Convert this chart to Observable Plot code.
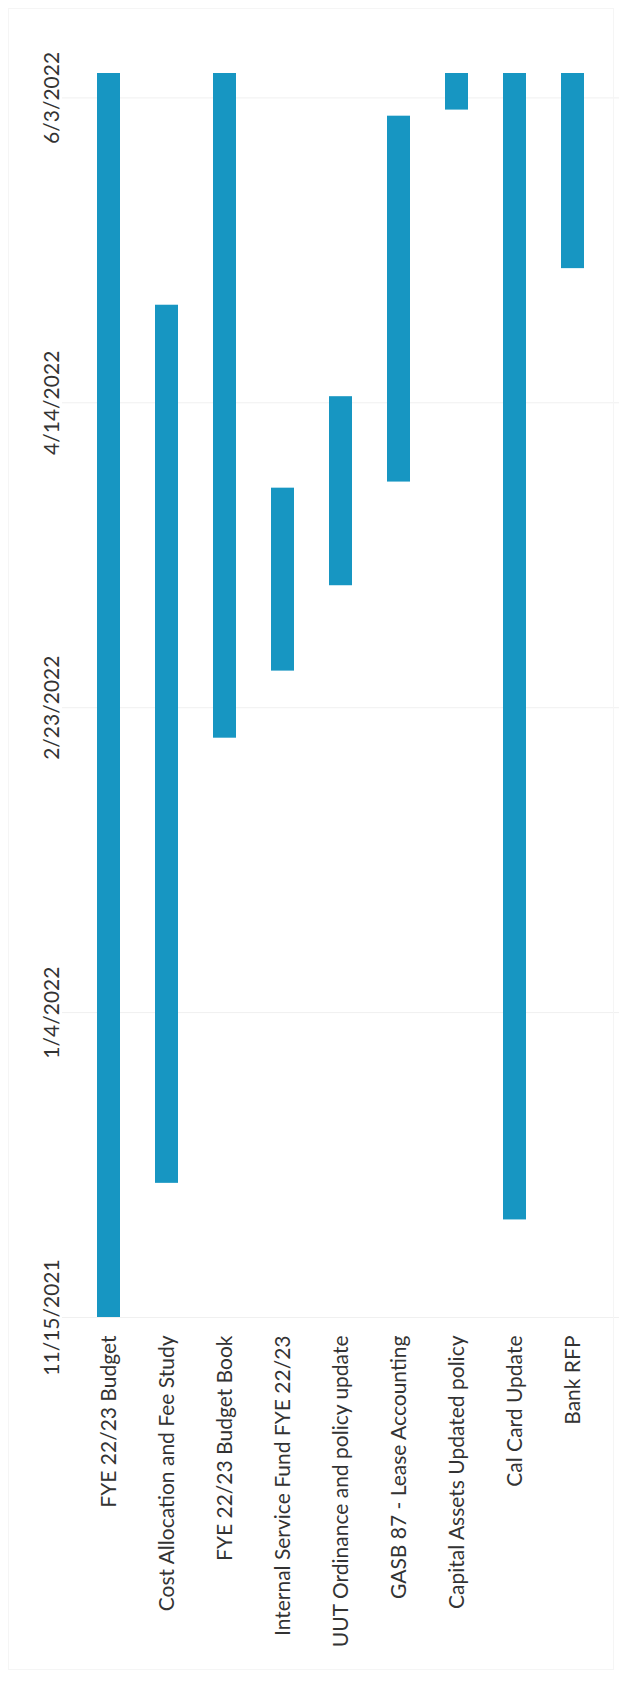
<!DOCTYPE html>
<html>
<head>
<meta charset="utf-8">
<script src="https://cdn.jsdelivr.net/npm/d3@7"></script>
<script src="https://cdn.jsdelivr.net/npm/@observablehq/plot@0.6"></script>
<style>
  html, body { margin: 0; padding: 0; background: #fff; }
  #wrap { position: relative; width: 625px; height: 1692px; }
  #border { position: absolute; left: 8px; top: 8px; width: 604px; height: 1660px; border: 1px solid #f5f5f5; pointer-events: none; }
</style>
</head>
<body>
<div id="wrap"><div id="border"></div></div>
<script>
// Categories (tasks), in display order
const tasks = [
  "FYE 22/23 Budget",
  "Cost Allocation and Fee Study",
  "FYE 22/23 Budget Book",
  "Internal Service Fund FYE 22/23",
  "UUT Ordinance and policy update",
  "GASB 87 - Lease Accounting",
  "Capital Assets Updated policy",
  "Cal Card Update",
  "Bank RFP"
];
// Start and end dates of each task
const starts = ["2021-11-15", "2021-12-07", "2022-02-18", "2022-03-01", "2022-03-15", "2022-04-01", "2022-06-01", "2021-12-01", "2022-05-06"];
const ends   = ["2022-06-07", "2022-04-30", "2022-06-07", "2022-03-31", "2022-04-15", "2022-05-31", "2022-06-07", "2022-06-07", "2022-06-07"];
// Date axis
const axisMin = "2021-11-15";
const axisMax = "2022-06-07";
const tickDates = ["2021-11-15", "2022-01-04", "2022-02-23", "2022-04-14", "2022-06-03"];

const parse = d3.utcParse("%Y-%m-%d");
const data = tasks.map((t, i) => ({ task: t, start: parse(starts[i]), end: parse(ends[i]) }));
const ticks = tickDates.map(parse);
const fmt = d3.utcFormat("%-m/%-d/%Y");

const chart = Plot.plot({
  width: 625,
  height: 1692,
  marginTop: 73,
  marginBottom: 375,
  marginLeft: 62,
  marginRight: 6,
  style: { fontFamily: "Lato, 'Open Sans', sans-serif", fontSize: "21px", color: "#333", background: "#fff" },
  x: { type: "band", domain: tasks, padding: 0.6, label: null },
  y: { type: "utc", domain: [parse(axisMin), parse(axisMax)], label: null },
  marks: [
    Plot.gridY(ticks, { stroke: "#f0f0f0", strokeOpacity: 1 }),
    Plot.barY(data, { x: "task", y1: "start", y2: "end", fill: "#1796c2" }),
    Plot.axisY(ticks, { tickSize: 0, tickRotate: -90, tickPadding: 4, tickFormat: fmt, fill: "#333", fontSize: 21, label: null }),
    Plot.axisX({ tickSize: 0, tickRotate: -90, tickPadding: 18, fill: "#333", fontSize: 21, label: null })
  ]
});
document.getElementById("wrap").prepend(chart);
</script>
</body>
</html>
